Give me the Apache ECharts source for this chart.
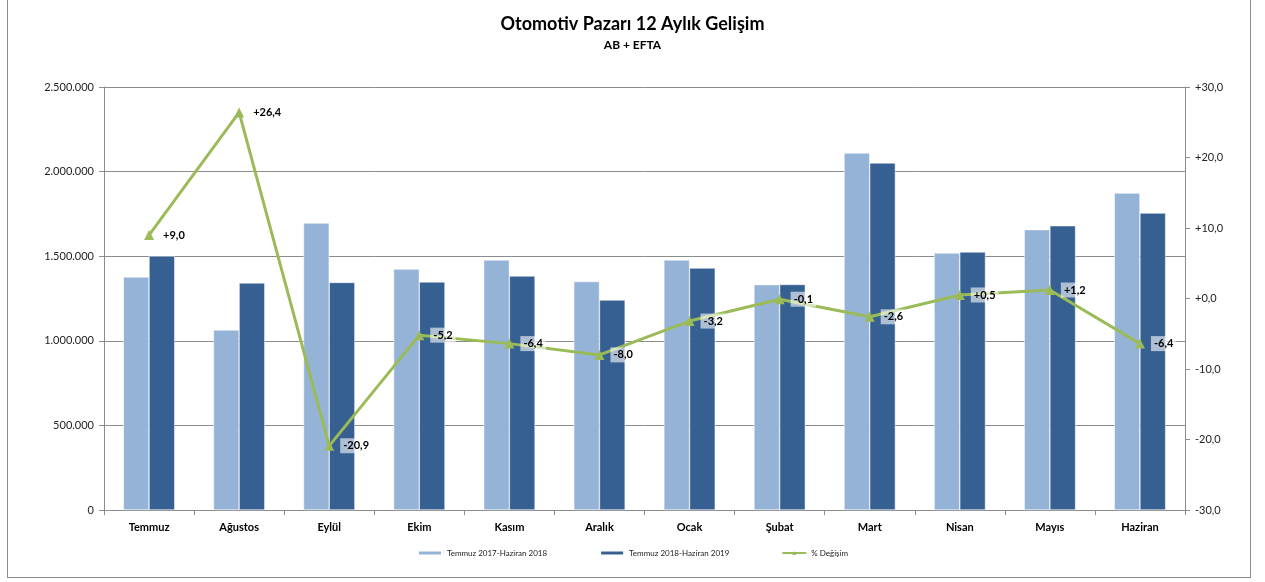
<!DOCTYPE html>
<html><head><meta charset="utf-8">
<script src="https://cdn.jsdelivr.net/npm/echarts@6/dist/echarts.min.js"></script>
<style>
html,body{margin:0;padding:0;background:#fff;}
#wrap{position:relative;width:1265px;height:582px;overflow:hidden;}
#frame{position:absolute;left:7px;top:-3px;width:1244px;height:581px;border:1px solid #8c8c8c;box-sizing:border-box;}
#c{position:absolute;left:0;top:0;width:1265px;height:582px;}
</style></head>
<body><div id="wrap"><div id="frame"></div><div id="c"></div></div>
<script>
const categories = ['Temmuz','Ağustos','Eylül','Ekim','Kasım','Aralık','Ocak','Şubat','Mart','Nisan','Mayıs','Haziran'];
const series2018 = [1377000,1064000,1696000,1424000,1478000,1350000,1478000,1332000,2110000,1519000,1657000,1873000];
const series2019 = [1501000,1342000,1345000,1348000,1383000,1241000,1430000,1333000,2051000,1525000,1680000,1755000];
const pctChange = [9.0,26.4,-20.9,-5.2,-6.4,-8.0,-3.2,-0.1,-2.6,0.5,1.2,-6.4];
const seriesNames = ['Temmuz 2017-Haziran 2018','Temmuz 2018-Haziran 2019','% Değişim'];

const fmtPct = v => (v >= 0 ? '+' : '') + v.toFixed(1).replace('.', ',');
const fmtThou = v => String(Math.round(v)).replace(/\B(?=(\d{3})+(?!\d))/g, '.');
const FONT = 'Lato, "Open Sans", sans-serif';

const chart = echarts.init(document.getElementById('c'), null, {renderer:'canvas'});
chart.setOption({
  animation:false,
  backgroundColor:'transparent',
  title:{
    text:'Otomotiv Pazarı 12 Aylık Gelişim',
    subtext:'AB + EFTA',
    left:'center', top:10, itemGap:6,
    textStyle:{fontFamily:FONT,fontSize:18,fontWeight:'bold',color:'#000'},
    subtextStyle:{fontFamily:FONT,fontSize:12,fontWeight:'bold',color:'#000'}
  },
  legend:{
    bottom:20, left:'center', itemGap:52, itemWidth:24, itemHeight:5,
    textStyle:{fontFamily:FONT,fontSize:8,color:'#222'},
    data:seriesNames
  },
  grid:{left:104,right:80,top:87,bottom:72,containLabel:false},
  xAxis:{
    type:'category', data:categories, boundaryGap:true,
    axisLine:{lineStyle:{color:'#8c8c8c',width:1}},
    axisTick:{show:true,alignWithLabel:false,length:5,lineStyle:{color:'#8c8c8c'}},
    axisLabel:{fontFamily:FONT,fontSize:11,fontWeight:'bold',color:'#000',margin:12}
  },
  yAxis:[{
    type:'value', min:0, max:2500000, interval:500000, position:'left',
    axisLine:{show:true,lineStyle:{color:'#8c8c8c'}},
    axisTick:{show:true,length:5,lineStyle:{color:'#8c8c8c'}},
    splitLine:{show:true,lineStyle:{color:'#8c8c8c',width:1}},
    axisLabel:{fontFamily:FONT,fontSize:11,color:'#222',margin:10,formatter:fmtThou}
  },{
    type:'value', min:-30, max:30, interval:10, position:'right',
    axisLine:{show:true,lineStyle:{color:'#8c8c8c'}},
    axisTick:{show:true,length:5,lineStyle:{color:'#8c8c8c'}},
    splitLine:{show:false},
    axisLabel:{fontFamily:FONT,fontSize:11,color:'#222',margin:10,formatter:fmtPct}
  }],
  series:[{
    name:seriesNames[0], type:'bar', data:series2018, barGap:'0%', barCategoryGap:'43%',
    itemStyle:{color:'#95B3D7',borderColor:'#ffffff',borderWidth:0.5}
  },{
    name:seriesNames[1], type:'bar', data:series2019,
    itemStyle:{color:'#366092',borderColor:'#ffffff',borderWidth:0.5}
  },{
    name:seriesNames[2], type:'line', yAxisIndex:1, data:pctChange,
    symbol:'triangle', symbolSize:10, z:5,
    lineStyle:{color:'#9BBB59',width:3},
    itemStyle:{color:'#9BBB59'},
    label:{show:true,position:'right',distance:6,formatter:p=>fmtPct(p.value),
      fontFamily:FONT,fontSize:11,fontWeight:'bold',color:'#000',
      backgroundColor:'rgba(255,255,255,0.6)',padding:[2,3]}
  }]
});
</script></body></html>
